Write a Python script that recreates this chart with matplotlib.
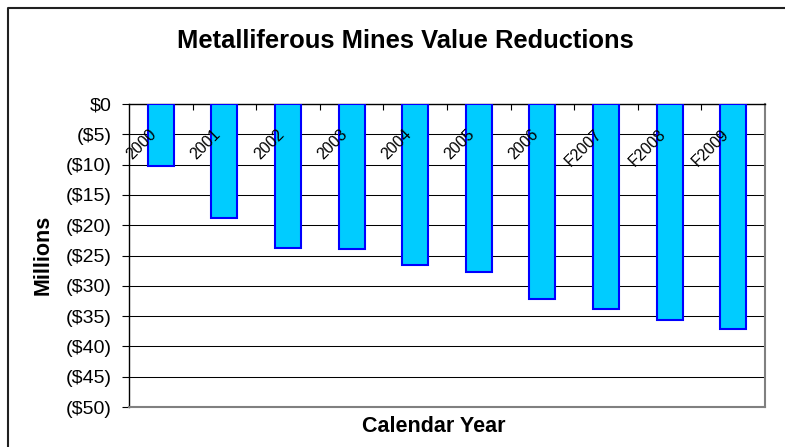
import matplotlib
matplotlib.use("Agg")
import matplotlib.pyplot as plt
from matplotlib.lines import Line2D
from matplotlib.ticker import FuncFormatter, FixedLocator

# ---- data ----
categories = ["2000", "2001", "2002", "2003", "2004", "2005", "2006",
              "F2007", "F2008", "F2009"]
values = [-10.3, -18.8, -23.8, -23.9, -26.6, -27.8, -32.2, -33.9, -35.6, -37.2]
y_ticks = [0, -5, -10, -15, -20, -25, -30, -35, -40, -45, -50]
title = "Metalliferous Mines Value Reductions"
x_title = "Calendar Year"
y_title = "Millions"

W, H = 785, 447
plt.rcParams['font.family'] = ['Liberation Sans', 'DejaVu Sans']
fig = plt.figure(figsize=(W / 100, H / 100), dpi=100)
fig.patch.set_facecolor("white")

left, right, top, bottom = 129, 765, 104, 407
ax = fig.add_axes([left / W, 1 - bottom / H, (right - left) / W, (bottom - top) / H])

x = list(range(len(categories)))
ax.bar(x, values, width=0.41, color="#00CCFF", edgecolor="#0000FF",
       linewidth=1.5, zorder=3)

ax.set_xlim(-0.5, len(categories) - 0.5)
ax.set_ylim(-50, 0)
ax.set_yticks(y_ticks)
ax.yaxis.set_major_formatter(FuncFormatter(
    lambda v, p: "$0" if round(v) == 0 else "(${:d})".format(int(round(abs(v))))))
ax.tick_params(axis="y", direction="out", length=5, width=0.8, pad=7.2,
               labelsize=14, colors="black")
ax.yaxis.grid(True, color="black", linewidth=0.75, zorder=0)
ax.set_axisbelow(True)

# category tick marks on the zero axis (top), pointing down
ax.xaxis.tick_top()
ax.xaxis.set_major_locator(FixedLocator([i + 0.5 for i in range(len(categories) - 1)]))
ax.tick_params(axis="x", direction="in", length=4.3, width=0.8, labeltop=False,
               labelbottom=False, top=True, bottom=False)

for i, c in enumerate(categories):
    ax.text(i - 0.1, -4.6, c, rotation=45, rotation_mode="anchor",
            ha="right", va="center", fontsize=11.5, color="black", zorder=4)

for s in ["top", "left"]:
    ax.spines[s].set_color("black")
    ax.spines[s].set_linewidth(1.0)
for s in ["right", "bottom"]:
    ax.spines[s].set_color("#808080")
    ax.spines[s].set_linewidth(1.5)

fig.text(405 / W, 1 - 48 / H, title, ha="center", va="baseline",
         fontsize=18.4, fontweight="bold")
fig.text(434 / W, 1 - 432 / H, x_title, ha="center", va="baseline",
         fontsize=15.5, fontweight="bold")
fig.text(49 / W, 1 - 255 / H, y_title, rotation=90, rotation_mode="anchor",
         ha="center", va="baseline", fontsize=15.5, fontweight="bold")

# outer chart frame (top and left visible, rest cropped)
x0, y0 = 7.5 / W, 1 - 8 / H
fig.add_artist(Line2D([x0, x0, 1.05], [-0.05, y0, y0], transform=fig.transFigure,
                      color="#202020", linewidth=1.5))

fig.savefig("out.png", dpi=100)
